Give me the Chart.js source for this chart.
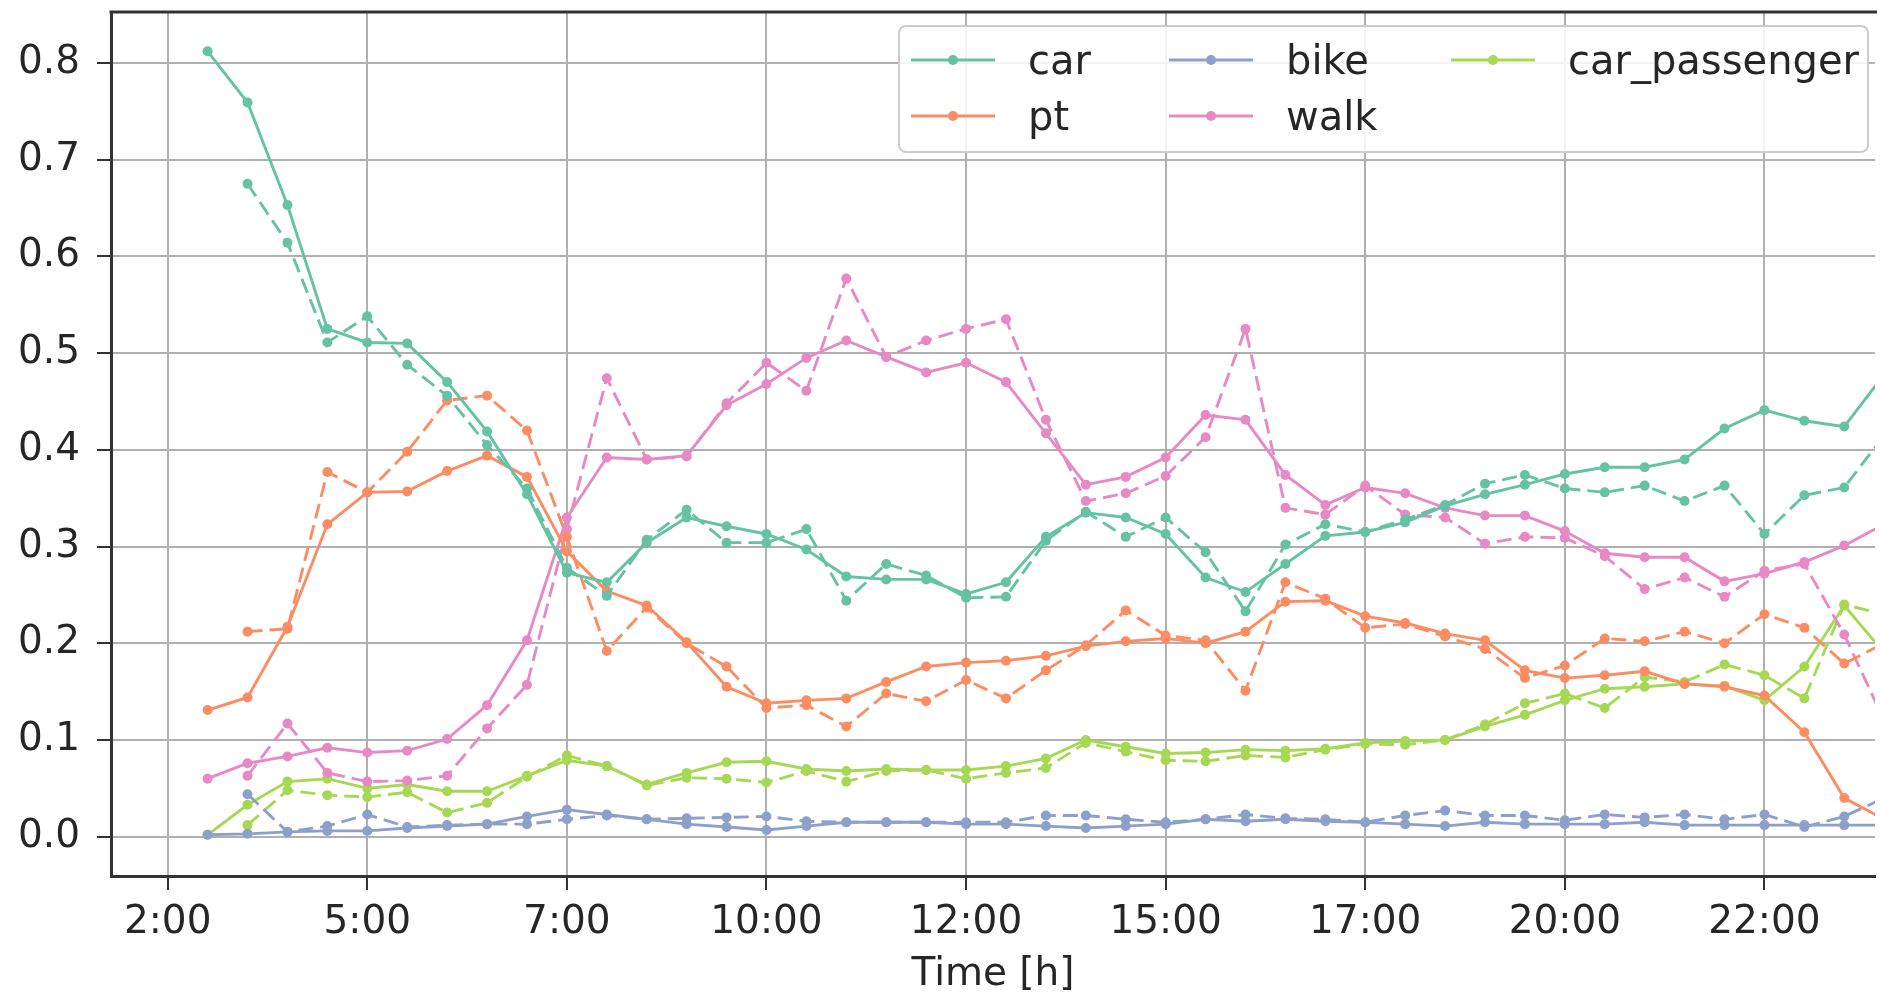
<!DOCTYPE html>
<html>
<head>
<meta charset="utf-8">
<script src="https://cdn.jsdelivr.net/npm/chart.js@4.4.1/dist/chart.umd.min.js"></script>
<style>
  html, body { margin: 0; padding: 0; background: #fff; overflow: hidden; }
  #wrap { width: 1880px; height: 992px; }
</style>
</head>
<body>
<div id="wrap"><canvas id="modes" width="1880" height="992"></canvas></div>
<script>
// half-hour steps, index 0 = 2:00 tick
const steps = [1, 2, 3, 4, 5, 6, 7, 8, 9, 10, 11, 12, 13, 14, 15, 16, 17, 18, 19, 20, 21, 22,
    23, 24, 25, 26, 27, 28, 29, 30, 31, 32, 33, 34, 35, 36, 37, 38, 39, 40, 41, 42, 43];

const tickPos = [0, 5, 10, 15, 20, 25, 30, 35, 40];
const tickLabels = ["2:00", "5:00", "7:00", "10:00", "12:00", "15:00", "17:00", "20:00", "22:00"];
const yTicks = [0, 0.1, 0.2, 0.3, 0.4, 0.5, 0.6, 0.7, 0.8];

const modes = ["car", "pt", "bike", "walk", "car_passenger"];
const colors = ["#66c2a5", "#fc8d62", "#8da0cb", "#e78ac3", "#a6d854"];

// solid lines
const carA = [0.812, 0.759, 0.653, 0.525, 0.511, 0.510, 0.470, 0.419, 0.354, 0.273, 0.263, 0.304, 0.330, 0.321,
    0.313, 0.297, 0.269, 0.266, 0.266, 0.251, 0.263, 0.310, 0.335, 0.330, 0.313, 0.268, 0.253, 0.282, 0.311,
    0.315, 0.325, 0.342, 0.354, 0.364, 0.375, 0.382, 0.382, 0.390, 0.422, 0.441, 0.430, 0.424, 0.478];
const ptA = [0.131, 0.144, 0.217, 0.323, 0.356, 0.357, 0.378, 0.394, 0.372, 0.295, 0.254, 0.239, 0.201, 0.155,
    0.138, 0.141, 0.143, 0.160, 0.176, 0.180, 0.182, 0.187, 0.197, 0.202, 0.205, 0.200, 0.212, 0.243, 0.244,
    0.228, 0.221, 0.210, 0.203, 0.172, 0.164, 0.167, 0.171, 0.158, 0.155, 0.146, 0.108, 0.040, 0.018];
const bikeA = [0.002, 0.003, 0.005, 0.006, 0.006, 0.009, 0.011, 0.013, 0.021, 0.028, 0.023, 0.018, 0.013, 0.010,
    0.007, 0.011, 0.015, 0.015, 0.015, 0.013, 0.013, 0.011, 0.009, 0.011, 0.013, 0.018, 0.016, 0.018, 0.016,
    0.015, 0.013, 0.011, 0.015, 0.013, 0.013, 0.013, 0.015, 0.012, 0.012, 0.012, 0.012, 0.012, 0.012];
const walkA = [0.060, 0.076, 0.083, 0.092, 0.087, 0.089, 0.101, 0.136, 0.203, 0.330, 0.392, 0.390, 0.394, 0.446,
    0.468, 0.495, 0.513, 0.496, 0.480, 0.490, 0.470, 0.417, 0.364, 0.372, 0.392, 0.436, 0.431, 0.374, 0.343,
    0.361, 0.355, 0.340, 0.332, 0.332, 0.316, 0.293, 0.289, 0.289, 0.264, 0.272, 0.284, 0.301, 0.323];
const paxA = [0.002, 0.033, 0.057, 0.060, 0.050, 0.054, 0.047, 0.047, 0.063, 0.079, 0.073, 0.054, 0.066, 0.077,
    0.078, 0.070, 0.068, 0.070, 0.069, 0.069, 0.073, 0.081, 0.100, 0.093, 0.086, 0.087, 0.090, 0.089, 0.091,
    0.097, 0.099, 0.100, 0.114, 0.126, 0.141, 0.153, 0.155, 0.158, 0.156, 0.141, 0.176, 0.239, 0.190];

// dashed lines (start one step later)
const carB = [null, 0.675, 0.614, 0.511, 0.538, 0.488, 0.456, 0.405, 0.360, 0.278, 0.249, 0.307, 0.338, 0.304,
    0.304, 0.318, 0.244, 0.282, 0.270, 0.247, 0.248, 0.306, 0.336, 0.310, 0.330, 0.294, 0.233, 0.302, 0.323,
    0.315, 0.328, 0.343, 0.365, 0.374, 0.360, 0.356, 0.363, 0.347, 0.363, 0.313, 0.353, 0.361, 0.415];
const ptB = [null, 0.212, 0.215, 0.377, 0.356, 0.398, 0.451, 0.456, 0.420, 0.310, 0.192, 0.237, 0.200, 0.176,
    0.133, 0.136, 0.114, 0.148, 0.140, 0.162, 0.143, 0.172, 0.198, 0.234, 0.208, 0.203, 0.151, 0.263, 0.246,
    0.216, 0.220, 0.207, 0.194, 0.164, 0.177, 0.205, 0.202, 0.212, 0.200, 0.230, 0.216, 0.179, 0.200];
const bikeB = [null, 0.044, 0.005, 0.011, 0.023, 0.010, 0.012, 0.013, 0.013, 0.018, 0.022, 0.018, 0.019, 0.020,
    0.021, 0.016, 0.015, 0.015, 0.015, 0.015, 0.015, 0.022, 0.022, 0.018, 0.015, 0.018, 0.023, 0.019, 0.018,
    0.015, 0.022, 0.027, 0.022, 0.022, 0.017, 0.023, 0.020, 0.023, 0.018, 0.023, 0.010, 0.021, 0.040];
const walkB = [null, 0.063, 0.117, 0.066, 0.057, 0.058, 0.063, 0.112, 0.157, 0.318, 0.474, 0.390, 0.393, 0.448,
    0.490, 0.461, 0.577, 0.496, 0.513, 0.525, 0.535, 0.431, 0.347, 0.355, 0.373, 0.413, 0.525, 0.340, 0.333,
    0.363, 0.333, 0.330, 0.303, 0.310, 0.309, 0.290, 0.256, 0.268, 0.248, 0.275, 0.282, 0.209, 0.120];
const paxB = [null, 0.012, 0.048, 0.043, 0.041, 0.046, 0.025, 0.035, 0.062, 0.084, 0.073, 0.053, 0.061, 0.060,
    0.056, 0.068, 0.057, 0.068, 0.069, 0.060, 0.066, 0.071, 0.097, 0.088, 0.079, 0.078, 0.084, 0.082, 0.090,
    0.096, 0.095, 0.100, 0.116, 0.138, 0.148, 0.133, 0.165, 0.160, 0.178, 0.167, 0.143, 0.240, 0.230];

const solid = [carA, ptA, bikeA, walkA, paxA];
const dashed = [carB, ptB, bikeB, walkB, paxB];

const FONT = "'DejaVu Sans', sans-serif";
const TEXT = "#262626";

function toPoints(arr) {
    return arr.map((v, i) => ({ x: steps[i], y: v }));
}

function makeSet(name, arr, color, dash) {
    return {
        label: name,
        data: toPoints(arr),
        borderColor: color,
        backgroundColor: color,
        borderWidth: 2.9,
        borderDash: dash ? [15, 7] : [],
        pointRadius: 5,
        pointBorderWidth: 0,
        pointBackgroundColor: color,
        fill: false,
        tension: 0
    };
}

const datasets = [];
modes.forEach((m, k) => {
    datasets.push(makeSet(m, solid[k], colors[k], false));
    datasets.push(makeSet(m + " (dashed)", dashed[k], colors[k], true));
});

// no extra room for half tick labels: the frame sits where the reference has it
function noPad(scale) {
    scale.paddingTop = 0;
    scale.paddingBottom = 0;
    scale.paddingLeft = 0;
    scale.paddingRight = 0;
}

// top spine + matplotlib style legend box in upper right
const frameLegend = {
    id: 'frameLegend',
    afterDatasetsDraw(chart) {
        const ctx = chart.ctx;
        const a = chart.chartArea;
        ctx.save();
        ctx.strokeStyle = "#333";
        ctx.lineWidth = 3;
        ctx.beginPath();
        ctx.moveTo(a.left - 1.5, a.top);
        ctx.lineTo(a.right + 2, a.top);
        ctx.stroke();

        // legend
        ctx.fillStyle = "rgba(255,255,255,0.85)";
        ctx.strokeStyle = "#cccccc";
        ctx.lineWidth = 2;
        ctx.beginPath();
        ctx.roundRect(899, 26, 969, 126, 7);
        ctx.fill();
        ctx.stroke();

        const colX = [911, 1169, 1451];
        const rowY = [60, 116];
        const place = [[0, 0], [0, 1], [1, 0], [1, 1], [2, 0]];
        ctx.font = "40px " + FONT;
        ctx.textBaseline = "middle";
        ctx.textAlign = "left";
        modes.forEach((m, k) => {
            const x = colX[place[k][0]];
            const y = rowY[place[k][1]];
            ctx.strokeStyle = colors[k];
            ctx.lineWidth = 2.9;
            ctx.beginPath();
            ctx.moveTo(x, y);
            ctx.lineTo(x + 84, y);
            ctx.stroke();
            ctx.fillStyle = colors[k];
            ctx.beginPath();
            ctx.arc(x + 42, y, 5, 0, Math.PI * 2);
            ctx.fill();
            ctx.fillStyle = TEXT;
            ctx.fillText(m, x + 117, y + 4);
        });
        ctx.restore();
    }
};

const ctx = document.getElementById('modes').getContext('2d');
new Chart(ctx, {
    type: 'line',
    data: { datasets: datasets },
    options: {
        responsive: false,
        animation: false,
        layout: { padding: { top: 12, left: 0, right: 0, bottom: 0 } },
        plugins: { legend: { display: false }, tooltip: { enabled: false } },
        scales: {
            x: {
                type: 'linear',
                min: -1.42,
                max: 42.77,
                afterFit(scale) { scale.height = 116; noPad(scale); },
                afterBuildTicks(scale) { scale.ticks = tickPos.map(v => ({ value: v })); },
                ticks: {
                    autoSkip: false,
                    maxRotation: 0,
                    padding: 9,
                    color: TEXT,
                    font: { family: FONT, size: 39 },
                    callback: (v) => tickLabels[tickPos.indexOf(v)]
                },
                grid: { color: "#b0b0b0", lineWidth: 2, tickLength: 14, tickColor: "#333", tickWidth: 2 },
                border: { color: "#333", width: 3 },
                title: {
                    display: true,
                    text: "Time [h]",
                    color: TEXT,
                    font: { family: FONT, size: 39, lineHeight: 0.9 },
                    padding: { top: 0, bottom: 0 }
                }
            },
            y: {
                min: -0.0406,
                max: 0.8526,
                afterFit(scale) { scale.width = 111; noPad(scale); },
                afterBuildTicks(scale) { scale.ticks = yTicks.map(v => ({ value: v })); },
                ticks: {
                    padding: 17,
                    color: TEXT,
                    font: { family: FONT, size: 39 },
                    callback: (v) => v.toFixed(1)
                },
                grid: { color: "#b0b0b0", lineWidth: 2, tickLength: 14, tickColor: "#333", tickWidth: 2 },
                border: { color: "#333", width: 3 }
            }
        }
    },
    plugins: [frameLegend]
});
</script>
</body>
</html>
